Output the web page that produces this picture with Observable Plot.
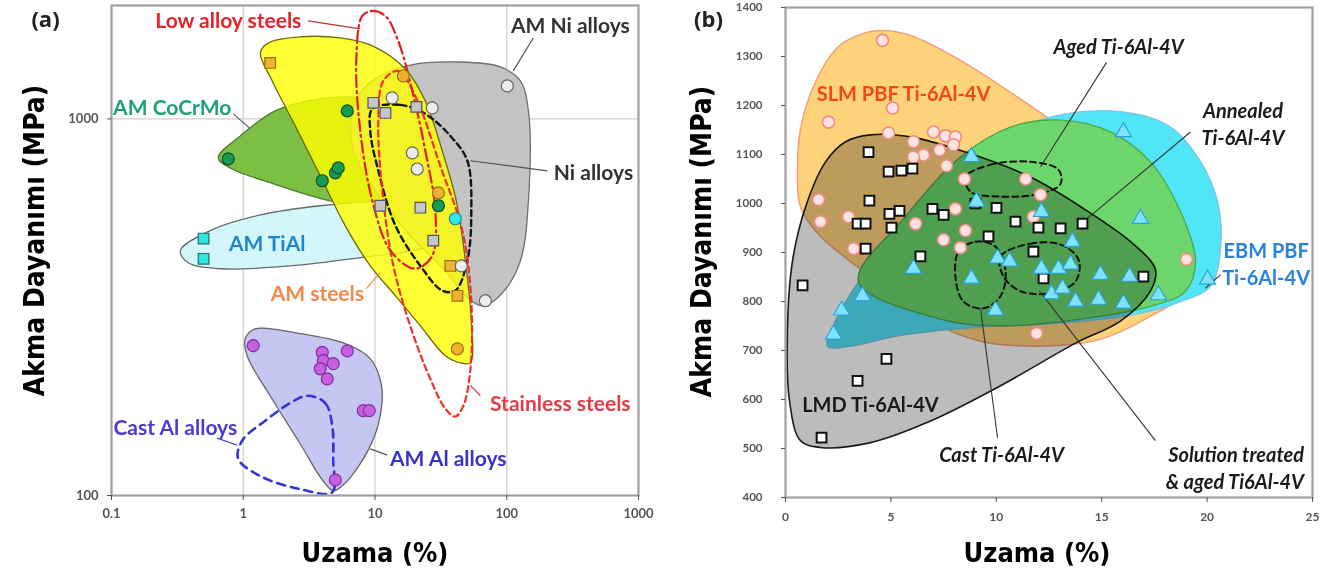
<!DOCTYPE html>
<html><head><meta charset="utf-8">
<script src="https://cdn.jsdelivr.net/npm/d3@7"></script>
<script src="https://cdn.jsdelivr.net/npm/@observablehq/plot@0.6"></script>
<style>
body{margin:0;background:#fff;}
#wrap{display:flex;width:1320px;height:579px;overflow:hidden;}
#wrap > div{width:660px;height:579px;}
</style></head><body><div id="wrap"><div id="pa"></div><div id="pb"></div></div>
<script>
// ---------- Panel (a) data: elongation (%), yield strength (MPa) ----------
const amSteels = [[1.35,1497],[1.55,1591],[2.71,1651],[5.45,1640],[9.55,1563],[17.0,1357],[24.1,1116],[32.4,822],[41.4,606],[48.5,420],[53.8,291],[52.9,225],[44.4,225],[34.2,235],[22.1,282],[14.3,339],[9.21,407],[5.95,520],[3.84,706],[2.48,958],[1.66,1261]];
const amNi = [[7.08,1116],[10.05,1277],[18.5,1390],[44.4,1416],[89.4,1374],[127,1261],[146,1050],[146,606],[127,420],[92.6,345],[66.4,319],[51.1,333],[34.2,395],[18.5,490],[10.05,644],[6.72,848]];
const amCoCrMo = [[0.646,788],[0.949,901],[1.75,1050],[3.84,1130],[8.44,1137],[18.5,1063],[30.3,901],[36.0,706],[34.2,588],[22.1,577],[10.97,581],[4.58,606],[1.60,677],[0.825,736]];
const amTiAl = [[0.333,447],[0.561,505],[1.35,556],[3.84,588],[13.1,606],[34.2,598],[48.5,563],[44.4,499],[22.1,452],[7.73,428],[2.27,407],[0.669,400],[0.382,415]];
const amAl = [[1.036,261],[1.23,277],[2.71,269],[5.95,253],[9.21,231],[11.2,196],[10.97,163],[8.89,132],[5.95,108],[4.82,103],[3.98,110],[2.71,137],[1.60,184],[1.07,235]];
const castAl = [[3.06,184],[4.19,176],[4.74,153],[4.82,124],[4.74,102],[2.71,104],[1.39,112],[0.916,125],[0.983,140],[1.47,158],[2.27,176]];
const lowAlloy = [[8.01,1876],[9.55,1935],[12.0,1876],[15.0,1611],[19.2,1187],[24.1,822],[28.7,570],[27.2,433],[20.2,400],[13.1,447],[9.55,606],[7.73,929],[7.21,1425]];
const stainless = [[11.56,1261],[15.0,1341],[20.2,1151],[31.3,750],[46.0,505],[53.8,329],[52.9,215],[46.8,173],[40.7,162],[34.2,170],[26.3,204],[18.5,282],[13.8,407],[11.36,644],[10.6,988]];
const niAlloys = [[9.55,1063],[15.6,1089],[24.1,1031],[37.3,901],[50.2,774],[53.8,570],[50.2,420],[40.7,350],[32.4,350],[22.1,407],[14.3,520],[10.6,728],[9.21,929]];

const steelSquares = [[1.60,1408],[37.3,407],[42.2,339]];
const steelCircles = [[16.4,1300],[30.3,636],[42.2,245]];
const niSquares = [[9.71,1103],[12.0,1037],[20.6,1076],[10.97,588],[22.1,581],[27.7,475]];
const niCircles = [[13.5,1137],[27.2,1070],[19.2,812],[20.9,736],[101,1223],[68.8,329],[45.2,407]];
const coCrMoPts = [[0.769,783],[6.16,1050],[3.98,685],[5.0,719],[5.26,741],[30.3,588]];
const tiAlSquares = [[0.5,481],[0.5,425]];
const tiAlCircles = [[40.7,543]];
const alPts = [[1.19,250],[3.98,240],[4.05,228],[4.82,224],[3.84,217],[4.34,204],[6.16,242],[8.15,168],[9.05,168],[5.0,110]];

const labelsA = [
  {t:"Low alloy steels", x:0.77, y:1820},
  {t:"AM Ni alloys", x:304, y:1766},
  {t:"AM CoCrMo", x:0.289, y:1070},
  {t:"Ni alloys", x:455, y:715},
  {t:"AM TiAl", x:1.52, y:466},
  {t:"AM steels", x:3.65, y:343},
  {t:"Stainless steels", x:255, y:175},
  {t:"Cast Al alloys", x:0.305, y:151},
  {t:"AM Al alloys", x:36.0, y:125}
];
const leadersA = [
  {t:"Low alloy steels", x1:3.1, y1:1820, x2:7.73, y2:1733},
  {t:"AM Ni alloys", x1:159, y1:1640, x2:112, y2:1341},
  {t:"AM CoCrMo", x1:0.84, y1:1031, x2:1.13, y2:941},
  {t:"Ni alloys", x1:203, y1:728, x2:52.9, y2:774},
  {t:"AM steels", x1:8.59, y1:354, x2:10.97, y2:391},
  {t:"Stainless steels", x1:63.0, y1:184, x2:52.9, y2:196},
  {t:"Cast Al alloys", x1:0.635, y1:142, x2:0.90, y2:136},
  {t:"AM Al alloys", x1:12.4, y1:128, x2:9.21, y2:133}
];
const xTicksA = [0.1, 1, 10, 100, 1000];
const yTicksA = [100, 1000];

// ---------- Panel (b) data ----------
const slm = [[0.71,1152],[1.42,1248],[2.47,1319],[3.56,1345],[4.51,1353],[5.93,1343],[8.30,1292],[10.67,1227],[13.05,1156],[15.42,1075],[17.79,973],[19.21,882],[18.74,811],[17.31,770],[14.94,723],[12.10,709],[9.25,719],[6.88,760],[4.03,851],[1.66,933],[0.71,993],[0.57,1071]];
const ebm = [[1.99,709],[2.37,760],[3.32,831],[4.98,922],[7.35,1044],[9.72,1126],[12.57,1176],[15.89,1187],[18.26,1156],[19.69,1085],[20.49,1004],[20.64,912],[20.16,831],[18.74,800],[16.84,776],[13.05,756],[9.25,748],[5.46,731],[3.08,709]];
const annealedZone = [[3.46,841],[5.69,973],[8.30,1095],[10.67,1156],[13.05,1170],[15.42,1146],[17.31,1085],[18.74,983],[19.45,882],[18.98,821],[17.31,790],[13.99,764],[10.2,750],[7.35,764]];
const lmd = [[1.66,502],[0.71,516],[0.19,597],[0.09,739],[0.33,882],[0.95,993],[1.90,1085],[2.85,1126],[4.03,1140],[5.93,1136],[8.54,1105],[11.62,1054],[14.23,987],[16.37,922],[17.55,865],[17.31,821],[15.89,760],[13.76,715],[10.2,628],[6.88,556],[4.03,512]];
const agedLoop = [[8.54,1054],[9.72,1079],[11.62,1085],[12.95,1069],[13.05,1040],[12.10,1020],[10.20,1014],[8.78,1024]];
const castLoop = [[8.21,902],[9.01,922],[9.96,912],[10.44,861],[10.20,811],[9.39,786],[8.44,800],[8.06,851]];
const staLoop = [[10.20,892],[11.62,918],[13.05,916],[13.90,886],[13.76,841],[12.57,817],[11.15,821],[10.34,851]];

const slmPts = [[4.60,1333],[5.08,1195],[2.04,1166],[4.89,1144],[7.02,1146],[7.59,1138],[8.06,1136],[6.07,1126],[7.97,1120],[7.31,1109],[6.55,1099],[6.07,1095],[7.64,1077],[8.49,1050],[11.39,1050],[12.10,1018],[1.57,1008],[1.66,963],[2.99,973],[8.06,989],[6.17,959],[8.54,945],[7.50,926],[8.30,910],[3.23,908],[11.76,973],[19.02,886],[11.91,735]];
const lmdPts = [[3.94,1105],[4.89,1065],[5.50,1067],[6.02,1071],[3.98,1006],[5.41,985],[4.93,979],[6.97,989],[7.50,977],[3.42,959],[3.80,959],[5.03,951],[3.80,908],[6.40,892],[9.01,1000],[9.63,933],[10.01,991],[10.91,963],[12.0,951],[13.05,949],[14.09,959],[11.76,902],[12.24,847],[16.98,851],[0.81,833],[4.79,683],[3.42,638],[1.71,522]];
const ebmPts = [[8.82,1095],[9.06,1004],[6.07,867],[8.82,847],[10.06,888],[10.63,882],[12.14,983],[12.14,867],[12.95,867],[13.52,876],[13.61,922],[14.94,855],[16.32,851],[16.03,1146],[16.84,969],[20.02,845],[3.65,811],[2.66,782],[2.28,733],[9.96,782],[12.62,815],[13.14,827],[13.76,800],[14.85,804],[16.03,796],[17.69,813]];

const labelsB = [
  {t:"SLM PBF Ti-6Al-4V", x:5.6, y:1227},
  {t:"Aged Ti-6Al-4V", x:15.8, y:1323},
  {t:"Annealed\nTi-6Al-4V", x:21.7, y:1165},
  {t:"EBM PBF\nTi-6Al-4V", x:22.8, y:878},
  {t:"LMD Ti-6Al-4V", x:4.03, y:593},
  {t:"Cast Ti-6Al-4V", x:10.25, y:491},
  {t:"Solution treated\n& aged Ti6Al-4V", x:24.6, y:462}
];
const leadersB = [
  {x1:15.23, y1:1288, x2:12.10, y2:1075},
  {x1:19.21, y1:1146, x2:14.14, y2:963},
  {x1:10.06, y1:522, x2:9.25, y2:786},
  {x1:17.55, y1:516, x2:12.05, y2:821},
  {x1:20.64, y1:855, x2:19.92, y2:827}
];
const xTicksB = [0, 5, 10, 15, 20, 25];
const yTicksB = [400, 500, 600, 700, 800, 900, 1000, 1100, 1200, 1300, 1400];

// ---------- helpers ----------
const LBL = "Lato, 'Open Sans', sans-serif";
const TITLE = "'DejaVu Sans Condensed', 'DejaVu Sans', sans-serif";
const shape = (pts, o) => Plot.line(pts, {x: d => d[0], y: d => d[1], curve: "catmull-rom-closed", ...o});
const pts = (arr, o) => Plot.dot(arr, {x: d => d[0], y: d => d[1], ...o});

// ---------- Panel (a) ----------
const colA = {
  "Low alloy steels":"#e8202a", "AM Ni alloys":"#333333", "AM CoCrMo":"#1fa07a",
  "Ni alloys":"#333333", "AM TiAl":"#1e86c8", "AM steels":"#f08848",
  "Stainless steels":"#e53a4a", "Cast Al alloys":"#4a3ad8", "AM Al alloys":"#3a32c8"
};
const leadColA = {
  "Low alloy steels":"#c03030", "AM Ni alloys":"#555", "AM CoCrMo":"#666",
  "Ni alloys":"#555", "AM steels":"#f08848", "Stainless steels":"#e53a4a",
  "Cast Al alloys":"#4a3ad8", "AM Al alloys":"#555"
};

const plotA = Plot.plot({
  width: 660, height: 579,
  marginLeft: 111, marginRight: 22, marginTop: 5, marginBottom: 84,
  x: {type: "log", domain: [0.1, 1000]},
  y: {type: "log", domain: [100, 2000]},
  style: {fontFamily: LBL, overflow: "visible", background: "white"},
  marks: [
    Plot.gridX([1, 10, 100], {stroke: "#cfcfcf", strokeOpacity: 1, strokeWidth: 1.2}),
    Plot.gridY([1000], {stroke: "#cfcfcf", strokeOpacity: 1, strokeWidth: 1.2}),
    shape(amCoCrMo, {fill: "#7dbf45", stroke: "#4c7a30", strokeWidth: 1.3}),
    shape(amTiAl, {fill: "#d2f6fa", stroke: "#6a6a6a", strokeWidth: 1.3}),
    shape(amNi, {fill: "#c4c4c4", stroke: "#707070", strokeWidth: 1.3}),
    shape(amSteels, {fill: "#ffff00", fillOpacity: 0.8, stroke: "#6b6b10", strokeWidth: 1.3}),
    shape(amAl, {fill: "#c6c6f2", stroke: "#666", strokeWidth: 1.3}),
    shape(niAlloys, {stroke: "#151515", strokeWidth: 2.4, strokeDasharray: "6,4"}),
    shape(stainless, {stroke: "#ee3030", strokeWidth: 2.2, strokeDasharray: "6,4"}),
    shape(lowAlloy, {stroke: "#e02020", strokeWidth: 2.2, strokeDasharray: "12,4,2,4"}),
    shape(castAl, {stroke: "#3434d8", strokeWidth: 2.6, strokeDasharray: "8,6"}),
    ...leadersA.map(l => Plot.link([l], {x1: "x1", y1: "y1", x2: "x2", y2: "y2", stroke: leadColA[l.t], strokeWidth: 1.2})),
    pts(steelSquares, {symbol: "square", r: 6, fill: "#f0b030", stroke: "#9a7010", strokeWidth: 1.2}),
    pts(steelCircles, {r: 6, fill: "#f0b030", stroke: "#9a7010", strokeWidth: 1.2}),
    pts(niSquares, {symbol: "square", r: 6, fill: "#c4c4cc", stroke: "#555", strokeWidth: 1.2}),
    pts(niCircles, {r: 6, fill: "#ececec", stroke: "#666", strokeWidth: 1.2}),
    pts(coCrMoPts, {r: 6, fill: "#1a9a50", stroke: "#0d5028", strokeWidth: 1.2}),
    pts(tiAlSquares, {symbol: "square", r: 6, fill: "#30e6e0", stroke: "#1f6e70", strokeWidth: 1.2}),
    pts(tiAlCircles, {r: 6, fill: "#30e6f0", stroke: "#1f8e90", strokeWidth: 1.2}),
    pts(alPts, {r: 6, fill: "#c65ee0", stroke: "#8030a0", strokeWidth: 1.2}),
    ...labelsA.map(l => Plot.text([l], {x: "x", y: "y", text: "t", fill: colA[l.t], fontSize: 21, fontWeight: "bold"})),
    Plot.frame({stroke: "#a0a0a0", strokeWidth: 2.2}),
    Plot.axisX(xTicksA, {tickFormat: d => String(d), tickSize: 5, tickPadding: 8, fontSize: 13, fontWeight: "bold", color: "#555", label: null}),
    Plot.axisY(yTicksA, {tickFormat: d => String(d), tickSize: 4, tickPadding: 9, fontSize: 13, fontWeight: "bold", color: "#555", label: null}),
    Plot.text(["(a)"], {frameAnchor: "top-left", dx: -66, dy: 14, textAnchor: "middle", lineAnchor: "middle", fontSize: 22, fontWeight: "bold", fill: "#222", fontFamily: "'Open Sans', sans-serif"}),
    Plot.text(["Uzama (%)"], {frameAnchor: "bottom", dy: 58, lineAnchor: "middle", textAnchor: "middle", fontSize: 27, fontWeight: "bold", fill: "#000", fontFamily: TITLE}),
    Plot.text(["Akma Dayanımı (MPa)"], {frameAnchor: "left", dx: -76, dy: -10, rotate: -90, textAnchor: "middle", lineAnchor: "middle", fontSize: 28, fontWeight: "bold", fill: "#000", fontFamily: TITLE})
  ]
});
document.getElementById("pa").appendChild(plotA);

// ---------- Panel (b) ----------
const colB = {
  "SLM PBF Ti-6Al-4V":"#f04a14", "EBM PBF\nTi-6Al-4V":"#2a82dc", "LMD Ti-6Al-4V":"#1a1a1a"
};
const italicB = new Set(["Aged Ti-6Al-4V", "Annealed\nTi-6Al-4V", "Cast Ti-6Al-4V", "Solution treated\n& aged Ti6Al-4V"]);

const plotB = Plot.plot({
  width: 660, height: 579,
  marginLeft: 125, marginRight: 8, marginTop: 7, marginBottom: 82,
  x: {domain: [0, 25]},
  y: {domain: [400, 1400]},
  style: {fontFamily: LBL, overflow: "visible", background: "white"},
  marks: [
    shape(slm, {fill: "#ffd27c", stroke: "#f3a07a", strokeWidth: 1.5}),
    shape(ebm, {fill: "#50e6f8", stroke: "#78c8e6", strokeWidth: 1.5}),
    shape(annealedZone, {fill: "#6cd66c", stroke: "#4aa84a", strokeWidth: 1.3}),
    shape(lmd, {fill: "#bcbcbc", mixBlendMode: "multiply", stroke: "#1a1a1a", strokeWidth: 1.6}),
    shape(agedLoop, {stroke: "#111", strokeWidth: 2, strokeDasharray: "6,4"}),
    shape(castLoop, {stroke: "#111", strokeWidth: 2, strokeDasharray: "6,4"}),
    shape(staLoop, {stroke: "#111", strokeWidth: 2, strokeDasharray: "6,4"}),
    Plot.link(leadersB, {x1: "x1", y1: "y1", x2: "x2", y2: "y2", stroke: "#333", strokeWidth: 1.1}),
    pts(slmPts, {r: 6, fill: "#ffe2e2", stroke: "#f08c84", strokeWidth: 1.6}),
    pts(lmdPts, {symbol: "square", r: 5.5, fill: "#ffffff", stroke: "#111", strokeWidth: 2}),
    pts(ebmPts, {symbol: "triangle", r: 6, fill: "#7fe4fa", stroke: "#2a9ee0", strokeWidth: 1.1}),
    ...labelsB.map(l => Plot.text([l], {x: "x", y: "y", text: "t",
      fill: colB[l.t] || "#1a1a1a", fontSize: 20, fontWeight: "bold",
      fontStyle: italicB.has(l.t) ? "italic" : "normal",
      textAnchor: l.t.startsWith("Solution") ? "end" : "middle", lineHeight: 1.35})),
    Plot.frame({stroke: "#a0a0a0", strokeWidth: 2.2}),
    Plot.axisX(xTicksB, {tickFormat: d => String(d), tickSize: 5, tickPadding: 10, fontSize: 12, fontWeight: "bold", color: "#555", label: null}),
    Plot.axisY(yTicksB, {tickFormat: d => String(d), tickSize: 4, tickPadding: 19, fontSize: 11.5, fontWeight: "bold", color: "#555", label: null}),
    Plot.text(["(b)"], {frameAnchor: "top-left", dx: -77, dy: 12, textAnchor: "middle", lineAnchor: "middle", fontSize: 22, fontWeight: "bold", fill: "#222", fontFamily: "'Open Sans', sans-serif"}),
    Plot.text(["Uzama (%)"], {frameAnchor: "bottom", dy: 56, dx: -12, lineAnchor: "middle", textAnchor: "middle", fontSize: 27, fontWeight: "bold", fill: "#000", fontFamily: TITLE}),
    Plot.text(["Akma Dayanımı (MPa)"], {frameAnchor: "left", dx: -83, dy: -11, rotate: -90, textAnchor: "middle", lineAnchor: "middle", fontSize: 28, fontWeight: "bold", fill: "#000", fontFamily: TITLE})
  ]
});
document.getElementById("pb").appendChild(plotB);
</script></body></html>
